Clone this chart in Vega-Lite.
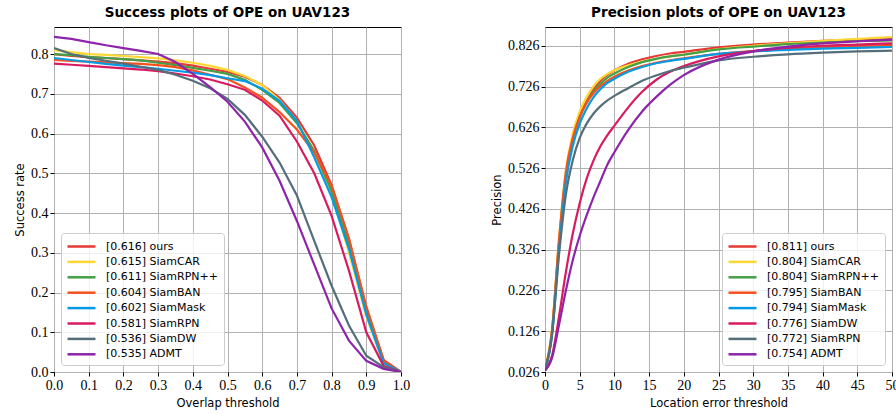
{
  "$schema": "https://vega.github.io/schema/vega-lite/v6.json",
  "background": "white",
  "padding": {"left": 14, "top": 5, "right": 0, "bottom": 2},
  "spacing": 80,
  "config": {
    "view": {"stroke": "#000000", "strokeWidth": 1},
    "axis": {"grid": true, "gridColor": "#b0b0b0", "gridWidth": 1, "gridOpacity": 1, "domain": false, "tickColor": "#000000", "tickSize": 4, "tickWidth": 1, "labelFont": "Liberation Serif", "labelFontSize": 14, "labelColor": "#000000", "labelPadding": 2, "labelOverlap": false, "labelFlush": false, "titleFont": "DejaVu Sans", "titleFontSize": 11.5, "titleFontWeight": "normal", "titleColor": "#000000", "titlePadding": 5},
    "title": {"font": "DejaVu Sans", "fontSize": 13.5, "fontWeight": "bold", "color": "#000000", "offset": 8},
    "legend": {"title": null, "fillColor": "rgba(255,255,255,0.8)", "strokeColor": "#cccccc", "cornerRadius": 3, "padding": 5, "labelFont": "DejaVu Sans", "labelFontSize": 11, "labelColor": "#000000", "labelLimit": 300, "labelOffset": 23, "symbolType": "M-1,0H3", "symbolSize": 196, "symbolStrokeWidth": 2.5, "rowPadding": 1.4, "offset": 7}
  },
  "datasets": {
    "success": [
      {"s":"[0.616] ours","t":0,"v":0.80},{"s":"[0.616] ours","t":0.05,"v":0.795},{"s":"[0.616] ours","t":0.1,"v":0.792},{"s":"[0.616] ours","t":0.15,"v":0.79},{"s":"[0.616] ours","t":0.2,"v":0.787},{"s":"[0.616] ours","t":0.25,"v":0.784},{"s":"[0.616] ours","t":0.3,"v":0.781},{"s":"[0.616] ours","t":0.35,"v":0.777},{"s":"[0.616] ours","t":0.4,"v":0.771},{"s":"[0.616] ours","t":0.45,"v":0.763},{"s":"[0.616] ours","t":0.5,"v":0.755},{"s":"[0.616] ours","t":0.55,"v":0.743},{"s":"[0.616] ours","t":0.6,"v":0.722},{"s":"[0.616] ours","t":0.65,"v":0.69},{"s":"[0.616] ours","t":0.7,"v":0.64},{"s":"[0.616] ours","t":0.75,"v":0.57},{"s":"[0.616] ours","t":0.8,"v":0.47},{"s":"[0.616] ours","t":0.85,"v":0.335},{"s":"[0.616] ours","t":0.9,"v":0.16},{"s":"[0.616] ours","t":0.95,"v":0.03},{"s":"[0.616] ours","t":1,"v":0},
      {"s":"[0.615] SiamCAR","t":0,"v":0.81},{"s":"[0.615] SiamCAR","t":0.05,"v":0.805},{"s":"[0.615] SiamCAR","t":0.1,"v":0.80},{"s":"[0.615] SiamCAR","t":0.15,"v":0.798},{"s":"[0.615] SiamCAR","t":0.2,"v":0.795},{"s":"[0.615] SiamCAR","t":0.25,"v":0.792},{"s":"[0.615] SiamCAR","t":0.3,"v":0.789},{"s":"[0.615] SiamCAR","t":0.35,"v":0.784},{"s":"[0.615] SiamCAR","t":0.4,"v":0.778},{"s":"[0.615] SiamCAR","t":0.45,"v":0.77},{"s":"[0.615] SiamCAR","t":0.5,"v":0.76},{"s":"[0.615] SiamCAR","t":0.55,"v":0.745},{"s":"[0.615] SiamCAR","t":0.6,"v":0.722},{"s":"[0.615] SiamCAR","t":0.65,"v":0.684},{"s":"[0.615] SiamCAR","t":0.7,"v":0.63},{"s":"[0.615] SiamCAR","t":0.75,"v":0.555},{"s":"[0.615] SiamCAR","t":0.8,"v":0.45},{"s":"[0.615] SiamCAR","t":0.85,"v":0.30},{"s":"[0.615] SiamCAR","t":0.9,"v":0.14},{"s":"[0.615] SiamCAR","t":0.95,"v":0.02},{"s":"[0.615] SiamCAR","t":1,"v":0},
      {"s":"[0.611] SiamRPN++","t":0,"v":0.80},{"s":"[0.611] SiamRPN++","t":0.05,"v":0.797},{"s":"[0.611] SiamRPN++","t":0.1,"v":0.793},{"s":"[0.611] SiamRPN++","t":0.15,"v":0.79},{"s":"[0.611] SiamRPN++","t":0.2,"v":0.787},{"s":"[0.611] SiamRPN++","t":0.25,"v":0.784},{"s":"[0.611] SiamRPN++","t":0.3,"v":0.778},{"s":"[0.611] SiamRPN++","t":0.35,"v":0.772},{"s":"[0.611] SiamRPN++","t":0.4,"v":0.765},{"s":"[0.611] SiamRPN++","t":0.45,"v":0.758},{"s":"[0.611] SiamRPN++","t":0.5,"v":0.75},{"s":"[0.611] SiamRPN++","t":0.55,"v":0.735},{"s":"[0.611] SiamRPN++","t":0.6,"v":0.71},{"s":"[0.611] SiamRPN++","t":0.65,"v":0.677},{"s":"[0.611] SiamRPN++","t":0.7,"v":0.626},{"s":"[0.611] SiamRPN++","t":0.75,"v":0.556},{"s":"[0.611] SiamRPN++","t":0.8,"v":0.455},{"s":"[0.611] SiamRPN++","t":0.85,"v":0.32},{"s":"[0.611] SiamRPN++","t":0.9,"v":0.155},{"s":"[0.611] SiamRPN++","t":0.95,"v":0.025},{"s":"[0.611] SiamRPN++","t":1,"v":0},
      {"s":"[0.604] SiamBAN","t":0,"v":0.785},{"s":"[0.604] SiamBAN","t":0.05,"v":0.783},{"s":"[0.604] SiamBAN","t":0.1,"v":0.781},{"s":"[0.604] SiamBAN","t":0.15,"v":0.779},{"s":"[0.604] SiamBAN","t":0.2,"v":0.777},{"s":"[0.604] SiamBAN","t":0.25,"v":0.775},{"s":"[0.604] SiamBAN","t":0.3,"v":0.772},{"s":"[0.604] SiamBAN","t":0.35,"v":0.767},{"s":"[0.604] SiamBAN","t":0.4,"v":0.759},{"s":"[0.604] SiamBAN","t":0.45,"v":0.748},{"s":"[0.604] SiamBAN","t":0.5,"v":0.737},{"s":"[0.604] SiamBAN","t":0.55,"v":0.716},{"s":"[0.604] SiamBAN","t":0.6,"v":0.69},{"s":"[0.604] SiamBAN","t":0.65,"v":0.654},{"s":"[0.604] SiamBAN","t":0.7,"v":0.61},{"s":"[0.604] SiamBAN","t":0.75,"v":0.552},{"s":"[0.604] SiamBAN","t":0.8,"v":0.468},{"s":"[0.604] SiamBAN","t":0.85,"v":0.335},{"s":"[0.604] SiamBAN","t":0.9,"v":0.165},{"s":"[0.604] SiamBAN","t":0.95,"v":0.03},{"s":"[0.604] SiamBAN","t":1,"v":0},
      {"s":"[0.602] SiamMask","t":0,"v":0.79},{"s":"[0.602] SiamMask","t":0.05,"v":0.785},{"s":"[0.602] SiamMask","t":0.1,"v":0.78},{"s":"[0.602] SiamMask","t":0.15,"v":0.775},{"s":"[0.602] SiamMask","t":0.2,"v":0.771},{"s":"[0.602] SiamMask","t":0.25,"v":0.767},{"s":"[0.602] SiamMask","t":0.3,"v":0.763},{"s":"[0.602] SiamMask","t":0.35,"v":0.758},{"s":"[0.602] SiamMask","t":0.4,"v":0.753},{"s":"[0.602] SiamMask","t":0.45,"v":0.747},{"s":"[0.602] SiamMask","t":0.5,"v":0.739},{"s":"[0.602] SiamMask","t":0.55,"v":0.732},{"s":"[0.602] SiamMask","t":0.6,"v":0.713},{"s":"[0.602] SiamMask","t":0.65,"v":0.682},{"s":"[0.602] SiamMask","t":0.7,"v":0.632},{"s":"[0.602] SiamMask","t":0.75,"v":0.54},{"s":"[0.602] SiamMask","t":0.8,"v":0.44},{"s":"[0.602] SiamMask","t":0.85,"v":0.31},{"s":"[0.602] SiamMask","t":0.9,"v":0.145},{"s":"[0.602] SiamMask","t":0.95,"v":0.022},{"s":"[0.602] SiamMask","t":1,"v":0},
      {"s":"[0.581] SiamRPN","t":0,"v":0.776},{"s":"[0.581] SiamRPN","t":0.05,"v":0.773},{"s":"[0.581] SiamRPN","t":0.1,"v":0.77},{"s":"[0.581] SiamRPN","t":0.15,"v":0.767},{"s":"[0.581] SiamRPN","t":0.2,"v":0.764},{"s":"[0.581] SiamRPN","t":0.25,"v":0.761},{"s":"[0.581] SiamRPN","t":0.3,"v":0.757},{"s":"[0.581] SiamRPN","t":0.35,"v":0.751},{"s":"[0.581] SiamRPN","t":0.4,"v":0.744},{"s":"[0.581] SiamRPN","t":0.45,"v":0.736},{"s":"[0.581] SiamRPN","t":0.5,"v":0.724},{"s":"[0.581] SiamRPN","t":0.55,"v":0.71},{"s":"[0.581] SiamRPN","t":0.6,"v":0.683},{"s":"[0.581] SiamRPN","t":0.65,"v":0.645},{"s":"[0.581] SiamRPN","t":0.7,"v":0.58},{"s":"[0.581] SiamRPN","t":0.75,"v":0.50},{"s":"[0.581] SiamRPN","t":0.8,"v":0.393},{"s":"[0.581] SiamRPN","t":0.85,"v":0.255},{"s":"[0.581] SiamRPN","t":0.9,"v":0.10},{"s":"[0.581] SiamRPN","t":0.95,"v":0.015},{"s":"[0.581] SiamRPN","t":1,"v":0},
      {"s":"[0.536] SiamDW","t":0,"v":0.815},{"s":"[0.536] SiamDW","t":0.05,"v":0.80},{"s":"[0.536] SiamDW","t":0.1,"v":0.79},{"s":"[0.536] SiamDW","t":0.15,"v":0.783},{"s":"[0.536] SiamDW","t":0.2,"v":0.776},{"s":"[0.536] SiamDW","t":0.25,"v":0.768},{"s":"[0.536] SiamDW","t":0.3,"v":0.76},{"s":"[0.536] SiamDW","t":0.35,"v":0.748},{"s":"[0.536] SiamDW","t":0.4,"v":0.733},{"s":"[0.536] SiamDW","t":0.45,"v":0.714},{"s":"[0.536] SiamDW","t":0.5,"v":0.687},{"s":"[0.536] SiamDW","t":0.55,"v":0.647},{"s":"[0.536] SiamDW","t":0.6,"v":0.592},{"s":"[0.536] SiamDW","t":0.65,"v":0.527},{"s":"[0.536] SiamDW","t":0.7,"v":0.444},{"s":"[0.536] SiamDW","t":0.75,"v":0.33},{"s":"[0.536] SiamDW","t":0.8,"v":0.217},{"s":"[0.536] SiamDW","t":0.85,"v":0.117},{"s":"[0.536] SiamDW","t":0.9,"v":0.041},{"s":"[0.536] SiamDW","t":0.95,"v":0.012},{"s":"[0.536] SiamDW","t":1,"v":0},
      {"s":"[0.535] ADMT","t":0,"v":0.843},{"s":"[0.535] ADMT","t":0.05,"v":0.838},{"s":"[0.535] ADMT","t":0.1,"v":0.83},{"s":"[0.535] ADMT","t":0.15,"v":0.822},{"s":"[0.535] ADMT","t":0.2,"v":0.815},{"s":"[0.535] ADMT","t":0.25,"v":0.808},{"s":"[0.535] ADMT","t":0.3,"v":0.80},{"s":"[0.535] ADMT","t":0.35,"v":0.78},{"s":"[0.535] ADMT","t":0.4,"v":0.75},{"s":"[0.535] ADMT","t":0.45,"v":0.717},{"s":"[0.535] ADMT","t":0.5,"v":0.68},{"s":"[0.535] ADMT","t":0.55,"v":0.63},{"s":"[0.535] ADMT","t":0.6,"v":0.565},{"s":"[0.535] ADMT","t":0.65,"v":0.481},{"s":"[0.535] ADMT","t":0.7,"v":0.38},{"s":"[0.535] ADMT","t":0.75,"v":0.27},{"s":"[0.535] ADMT","t":0.8,"v":0.16},{"s":"[0.535] ADMT","t":0.85,"v":0.079},{"s":"[0.535] ADMT","t":0.9,"v":0.028},{"s":"[0.535] ADMT","t":0.95,"v":0.008},{"s":"[0.535] ADMT","t":1,"v":0}
    ],
    "precision": [
      {"s":"[0.811] ours","e":0,"p":0.03},{"s":"[0.811] ours","e":1,"p":0.125},{"s":"[0.811] ours","e":2,"p":0.34},{"s":"[0.811] ours","e":3,"p":0.51},{"s":"[0.811] ours","e":4,"p":0.60},{"s":"[0.811] ours","e":5,"p":0.655},{"s":"[0.811] ours","e":6,"p":0.692},{"s":"[0.811] ours","e":7,"p":0.72},{"s":"[0.811] ours","e":8,"p":0.74},{"s":"[0.811] ours","e":9,"p":0.755},{"s":"[0.811] ours","e":10,"p":0.766},{"s":"[0.811] ours","e":12,"p":0.782},{"s":"[0.811] ours","e":14,"p":0.793},{"s":"[0.811] ours","e":16,"p":0.801},{"s":"[0.811] ours","e":18,"p":0.807},{"s":"[0.811] ours","e":20,"p":0.811},{"s":"[0.811] ours","e":25,"p":0.822},{"s":"[0.811] ours","e":30,"p":0.829},{"s":"[0.811] ours","e":35,"p":0.834},{"s":"[0.811] ours","e":40,"p":0.838},{"s":"[0.811] ours","e":45,"p":0.841},{"s":"[0.811] ours","e":50,"p":0.843},
      {"s":"[0.804] SiamCAR","e":0,"p":0.03},{"s":"[0.804] SiamCAR","e":1,"p":0.13},{"s":"[0.804] SiamCAR","e":2,"p":0.35},{"s":"[0.804] SiamCAR","e":3,"p":0.52},{"s":"[0.804] SiamCAR","e":4,"p":0.61},{"s":"[0.804] SiamCAR","e":5,"p":0.665},{"s":"[0.804] SiamCAR","e":6,"p":0.70},{"s":"[0.804] SiamCAR","e":7,"p":0.727},{"s":"[0.804] SiamCAR","e":8,"p":0.745},{"s":"[0.804] SiamCAR","e":9,"p":0.757},{"s":"[0.804] SiamCAR","e":10,"p":0.766},{"s":"[0.804] SiamCAR","e":12,"p":0.778},{"s":"[0.804] SiamCAR","e":14,"p":0.787},{"s":"[0.804] SiamCAR","e":16,"p":0.794},{"s":"[0.804] SiamCAR","e":18,"p":0.80},{"s":"[0.804] SiamCAR","e":20,"p":0.804},{"s":"[0.804] SiamCAR","e":25,"p":0.818},{"s":"[0.804] SiamCAR","e":30,"p":0.826},{"s":"[0.804] SiamCAR","e":35,"p":0.832},{"s":"[0.804] SiamCAR","e":40,"p":0.838},{"s":"[0.804] SiamCAR","e":45,"p":0.843},{"s":"[0.804] SiamCAR","e":50,"p":0.847},
      {"s":"[0.804] SiamRPN++","e":0,"p":0.03},{"s":"[0.804] SiamRPN++","e":1,"p":0.12},{"s":"[0.804] SiamRPN++","e":2,"p":0.335},{"s":"[0.804] SiamRPN++","e":3,"p":0.505},{"s":"[0.804] SiamRPN++","e":4,"p":0.595},{"s":"[0.804] SiamRPN++","e":5,"p":0.65},{"s":"[0.804] SiamRPN++","e":6,"p":0.687},{"s":"[0.804] SiamRPN++","e":7,"p":0.714},{"s":"[0.804] SiamRPN++","e":8,"p":0.733},{"s":"[0.804] SiamRPN++","e":9,"p":0.748},{"s":"[0.804] SiamRPN++","e":10,"p":0.758},{"s":"[0.804] SiamRPN++","e":12,"p":0.774},{"s":"[0.804] SiamRPN++","e":14,"p":0.786},{"s":"[0.804] SiamRPN++","e":16,"p":0.794},{"s":"[0.804] SiamRPN++","e":18,"p":0.80},{"s":"[0.804] SiamRPN++","e":20,"p":0.804},{"s":"[0.804] SiamRPN++","e":25,"p":0.817},{"s":"[0.804] SiamRPN++","e":30,"p":0.824},{"s":"[0.804] SiamRPN++","e":35,"p":0.83},{"s":"[0.804] SiamRPN++","e":40,"p":0.834},{"s":"[0.804] SiamRPN++","e":45,"p":0.837},{"s":"[0.804] SiamRPN++","e":50,"p":0.839},
      {"s":"[0.795] SiamBAN","e":0,"p":0.03},{"s":"[0.795] SiamBAN","e":1,"p":0.125},{"s":"[0.795] SiamBAN","e":2,"p":0.345},{"s":"[0.795] SiamBAN","e":3,"p":0.515},{"s":"[0.795] SiamBAN","e":4,"p":0.60},{"s":"[0.795] SiamBAN","e":5,"p":0.652},{"s":"[0.795] SiamBAN","e":6,"p":0.686},{"s":"[0.795] SiamBAN","e":7,"p":0.71},{"s":"[0.795] SiamBAN","e":8,"p":0.727},{"s":"[0.795] SiamBAN","e":9,"p":0.74},{"s":"[0.795] SiamBAN","e":10,"p":0.75},{"s":"[0.795] SiamBAN","e":12,"p":0.765},{"s":"[0.795] SiamBAN","e":14,"p":0.776},{"s":"[0.795] SiamBAN","e":16,"p":0.784},{"s":"[0.795] SiamBAN","e":18,"p":0.79},{"s":"[0.795] SiamBAN","e":20,"p":0.795},{"s":"[0.795] SiamBAN","e":25,"p":0.806},{"s":"[0.795] SiamBAN","e":30,"p":0.813},{"s":"[0.795] SiamBAN","e":35,"p":0.818},{"s":"[0.795] SiamBAN","e":40,"p":0.822},{"s":"[0.795] SiamBAN","e":45,"p":0.825},{"s":"[0.795] SiamBAN","e":50,"p":0.828},
      {"s":"[0.794] SiamMask","e":0,"p":0.03},{"s":"[0.794] SiamMask","e":1,"p":0.115},{"s":"[0.794] SiamMask","e":2,"p":0.32},{"s":"[0.794] SiamMask","e":3,"p":0.49},{"s":"[0.794] SiamMask","e":4,"p":0.58},{"s":"[0.794] SiamMask","e":5,"p":0.635},{"s":"[0.794] SiamMask","e":6,"p":0.672},{"s":"[0.794] SiamMask","e":7,"p":0.70},{"s":"[0.794] SiamMask","e":8,"p":0.72},{"s":"[0.794] SiamMask","e":9,"p":0.735},{"s":"[0.794] SiamMask","e":10,"p":0.745},{"s":"[0.794] SiamMask","e":12,"p":0.762},{"s":"[0.794] SiamMask","e":14,"p":0.774},{"s":"[0.794] SiamMask","e":16,"p":0.783},{"s":"[0.794] SiamMask","e":18,"p":0.789},{"s":"[0.794] SiamMask","e":20,"p":0.794},{"s":"[0.794] SiamMask","e":25,"p":0.806},{"s":"[0.794] SiamMask","e":30,"p":0.812},{"s":"[0.794] SiamMask","e":35,"p":0.816},{"s":"[0.794] SiamMask","e":40,"p":0.819},{"s":"[0.794] SiamMask","e":45,"p":0.821},{"s":"[0.794] SiamMask","e":50,"p":0.823},
      {"s":"[0.776] SiamDW","e":0,"p":0.03},{"s":"[0.776] SiamDW","e":1,"p":0.065},{"s":"[0.776] SiamDW","e":2,"p":0.16},{"s":"[0.776] SiamDW","e":3,"p":0.27},{"s":"[0.776] SiamDW","e":4,"p":0.365},{"s":"[0.776] SiamDW","e":5,"p":0.44},{"s":"[0.776] SiamDW","e":6,"p":0.50},{"s":"[0.776] SiamDW","e":7,"p":0.545},{"s":"[0.776] SiamDW","e":8,"p":0.58},{"s":"[0.776] SiamDW","e":9,"p":0.607},{"s":"[0.776] SiamDW","e":10,"p":0.63},{"s":"[0.776] SiamDW","e":12,"p":0.675},{"s":"[0.776] SiamDW","e":14,"p":0.713},{"s":"[0.776] SiamDW","e":16,"p":0.742},{"s":"[0.776] SiamDW","e":18,"p":0.762},{"s":"[0.776] SiamDW","e":20,"p":0.776},{"s":"[0.776] SiamDW","e":25,"p":0.80},{"s":"[0.776] SiamDW","e":30,"p":0.813},{"s":"[0.776] SiamDW","e":35,"p":0.821},{"s":"[0.776] SiamDW","e":40,"p":0.826},{"s":"[0.776] SiamDW","e":45,"p":0.829},{"s":"[0.776] SiamDW","e":50,"p":0.832},
      {"s":"[0.772] SiamRPN","e":0,"p":0.03},{"s":"[0.772] SiamRPN","e":1,"p":0.115},{"s":"[0.772] SiamRPN","e":2,"p":0.31},{"s":"[0.772] SiamRPN","e":3,"p":0.46},{"s":"[0.772] SiamRPN","e":4,"p":0.545},{"s":"[0.772] SiamRPN","e":5,"p":0.60},{"s":"[0.772] SiamRPN","e":6,"p":0.635},{"s":"[0.772] SiamRPN","e":7,"p":0.66},{"s":"[0.772] SiamRPN","e":8,"p":0.678},{"s":"[0.772] SiamRPN","e":9,"p":0.692},{"s":"[0.772] SiamRPN","e":10,"p":0.703},{"s":"[0.772] SiamRPN","e":12,"p":0.722},{"s":"[0.772] SiamRPN","e":14,"p":0.74},{"s":"[0.772] SiamRPN","e":16,"p":0.753},{"s":"[0.772] SiamRPN","e":18,"p":0.764},{"s":"[0.772] SiamRPN","e":20,"p":0.772},{"s":"[0.772] SiamRPN","e":25,"p":0.79},{"s":"[0.772] SiamRPN","e":30,"p":0.799},{"s":"[0.772] SiamRPN","e":35,"p":0.805},{"s":"[0.772] SiamRPN","e":40,"p":0.809},{"s":"[0.772] SiamRPN","e":45,"p":0.812},{"s":"[0.772] SiamRPN","e":50,"p":0.814},
      {"s":"[0.754] ADMT","e":0,"p":0.03},{"s":"[0.754] ADMT","e":1,"p":0.06},{"s":"[0.754] ADMT","e":2,"p":0.14},{"s":"[0.754] ADMT","e":3,"p":0.225},{"s":"[0.754] ADMT","e":4,"p":0.30},{"s":"[0.754] ADMT","e":5,"p":0.36},{"s":"[0.754] ADMT","e":6,"p":0.41},{"s":"[0.754] ADMT","e":7,"p":0.455},{"s":"[0.754] ADMT","e":8,"p":0.495},{"s":"[0.754] ADMT","e":9,"p":0.535},{"s":"[0.754] ADMT","e":10,"p":0.565},{"s":"[0.754] ADMT","e":12,"p":0.62},{"s":"[0.754] ADMT","e":14,"p":0.665},{"s":"[0.754] ADMT","e":16,"p":0.70},{"s":"[0.754] ADMT","e":18,"p":0.73},{"s":"[0.754] ADMT","e":20,"p":0.754},{"s":"[0.754] ADMT","e":25,"p":0.792},{"s":"[0.754] ADMT","e":30,"p":0.812},{"s":"[0.754] ADMT","e":35,"p":0.824},{"s":"[0.754] ADMT","e":40,"p":0.832},{"s":"[0.754] ADMT","e":45,"p":0.837},{"s":"[0.754] ADMT","e":50,"p":0.841}
    ]
  },
  "hconcat": [
    {
      "title": "Success plots of OPE on UAV123",
      "width": 347,
      "height": 345,
      "data": {"name": "success"},
      "mark": {"type": "line", "strokeWidth": 2.2, "interpolate": "linear", "clip": true},
      "encoding": {
        "x": {"field": "t", "type": "quantitative", "scale": {"domain": [0, 1], "nice": false, "zero": false}, "axis": {"title": "Overlap threshold", "values": [0, 0.1, 0.2, 0.3, 0.4, 0.5, 0.6, 0.7, 0.8, 0.9, 1.0], "format": ".1f"}},
        "y": {"field": "v", "type": "quantitative", "scale": {"domain": [0, 0.868], "nice": false, "zero": false}, "axis": {"title": "Success rate", "values": [0, 0.1, 0.2, 0.3, 0.4, 0.5, 0.6, 0.7, 0.8], "format": ".1f"}},
        "color": {"field": "s", "type": "nominal", "scale": {"domain": ["[0.616] ours", "[0.615] SiamCAR", "[0.611] SiamRPN++", "[0.604] SiamBAN", "[0.602] SiamMask", "[0.581] SiamRPN", "[0.536] SiamDW", "[0.535] ADMT"], "range": ["#e53935", "#fdd835", "#43a047", "#f4511e", "#039be5", "#d81b60", "#546e7a", "#8e24aa"]}, "legend": {"orient": "bottom-left"}}
      }
    },
    {
      "title": "Precision plots of OPE on UAV123",
      "width": 347,
      "height": 345,
      "data": {"name": "precision"},
      "mark": {"type": "line", "strokeWidth": 2.2, "interpolate": "monotone", "clip": true},
      "encoding": {
        "x": {"field": "e", "type": "quantitative", "scale": {"domain": [0, 50], "nice": false, "zero": false}, "axis": {"title": "Location error threshold", "values": [0, 5, 10, 15, 20, 25, 30, 35, 40, 45, 50], "format": "d"}},
        "y": {"field": "p", "type": "quantitative", "scale": {"domain": [0.026, 0.872], "nice": false, "zero": false}, "axis": {"title": "Precision", "values": [0.026, 0.126, 0.226, 0.326, 0.426, 0.526, 0.626, 0.726, 0.826], "format": ".3f"}},
        "color": {"field": "s", "type": "nominal", "scale": {"domain": ["[0.811] ours", "[0.804] SiamCAR", "[0.804] SiamRPN++", "[0.795] SiamBAN", "[0.794] SiamMask", "[0.776] SiamDW", "[0.772] SiamRPN", "[0.754] ADMT"], "range": ["#e53935", "#fdd835", "#43a047", "#f4511e", "#039be5", "#d81b60", "#546e7a", "#8e24aa"]}, "legend": {"orient": "bottom-right"}}
      }
    }
  ],
  "resolve": {"scale": {"color": "independent"}, "legend": {"color": "independent"}}
}
